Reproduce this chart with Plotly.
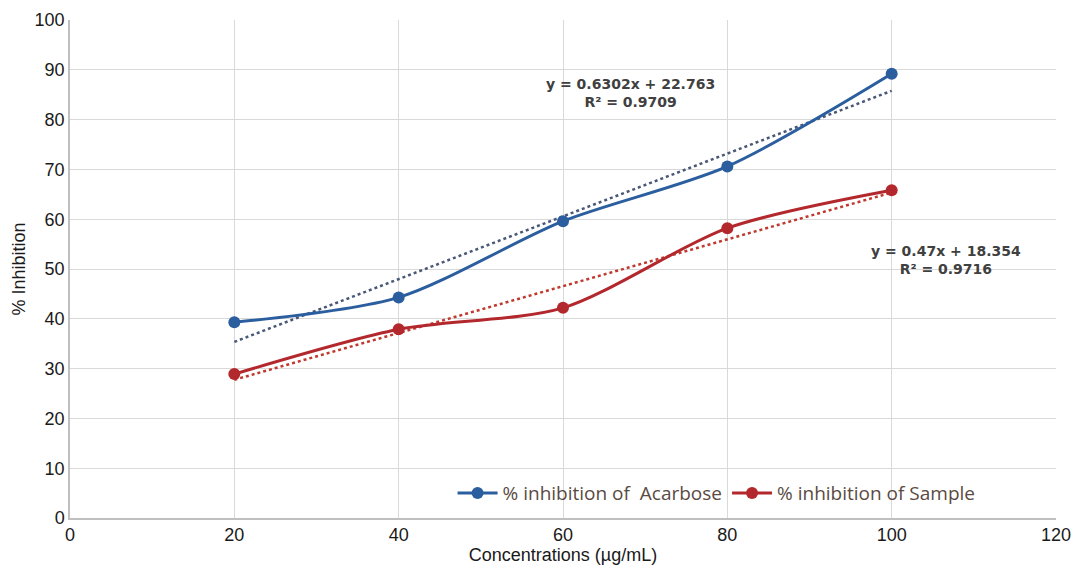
import plotly.graph_objects as go
import numpy as np

conc = [20, 40, 60, 80, 100]
acarbose = [39.3, 44.3, 59.6, 70.6, 89.2]
sample = [28.9, 37.9, 42.2, 58.2, 65.8]

acarbose_fit = (0.6302, 22.763, 0.9709)
sample_fit = (0.47, 18.354, 0.9716)

blue = "#2b5e9e"
red = "#b3282d"

fig = go.Figure()

def trend(fit):
    m, b, _ = fit
    xs = np.array([conc[0], conc[-1]])
    return xs, m * xs + b

tx, ty = trend(acarbose_fit)
fig.add_trace(go.Scatter(x=tx, y=ty, mode="lines", line=dict(color="#4a5878", width=2.5, dash="dot"),
                         showlegend=False, hoverinfo="skip"))
tx, ty = trend(sample_fit)
fig.add_trace(go.Scatter(x=tx, y=ty, mode="lines", line=dict(color="#c0392f", width=2.5, dash="dot"),
                         showlegend=False, hoverinfo="skip"))

fig.add_trace(go.Scatter(x=conc, y=acarbose, mode="lines+markers", name="% inhibition of  Acarbose",
                         line=dict(color=blue, width=3, shape="spline", smoothing=0.8),
                         marker=dict(size=12, color=blue)))
fig.add_trace(go.Scatter(x=conc, y=sample, mode="lines+markers", name="% inhibition of Sample",
                         line=dict(color=red, width=3, shape="spline", smoothing=0.8),
                         marker=dict(size=12, color=red)))

def eq_text(fit):
    m, b, r2 = fit
    return f"<b>y = {m}x + {b}</b><br><b>R² = {r2}</b>"

ann_font = dict(family="DejaVu Sans", size=14, color="#404040")
fig.add_annotation(x=68.2, y=85.3, text=eq_text(acarbose_fit), showarrow=False,
                   font=ann_font, align="center")
fig.add_annotation(x=106.6, y=51.8, text=eq_text(sample_fit), showarrow=False,
                   font=ann_font, align="center")

axis_font = dict(family="Liberation Sans, Arial", size=18, color="#1a1a1a")
fig.update_layout(
    width=1074, height=568,
    margin=dict(l=70, r=18, t=20, b=50),
    paper_bgcolor="white", plot_bgcolor="white",
    font=dict(family="Liberation Sans, Arial", color="#1a1a1a"),
    xaxis=dict(range=[0, 120], dtick=20, showgrid=True, gridcolor="#d9d9d9", gridwidth=1,
               showline=True, linecolor="#bfbfbf", linewidth=1.5, zeroline=False,
               tickfont=axis_font, ticks="", automargin=False,
               title=dict(text="Concentrations (µg/mL)", font=dict(family="Liberation Sans, Arial", size=18, color="#1a1a1a"), standoff=4)),
    yaxis=dict(range=[0, 100], dtick=10, showgrid=True, gridcolor="#d9d9d9", gridwidth=1,
               showline=True, linecolor="#bfbfbf", linewidth=1.5, zeroline=False,
               tickfont=axis_font, ticks="", automargin=False,
               title=dict(text="% Inhibition", font=dict(family="Liberation Sans, Arial", size=18, color="#1a1a1a"), standoff=4)),
    legend=dict(orientation="h", x=0.388, y=0.05, xanchor="left", yanchor="middle",
                bgcolor="rgba(0,0,0,0)", font=dict(family="Open Sans", size=19, color="#5a4a42"),
                itemwidth=40),
)

fig.write_html("out.html")
